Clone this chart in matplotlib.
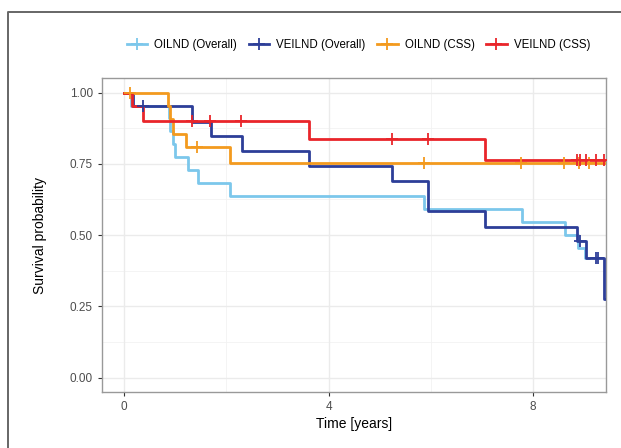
import matplotlib.pyplot as plt
from matplotlib.lines import Line2D

plt.rcParams['font.family'] = ['Liberation Sans', 'DejaVu Sans']

# Kaplan-Meier curves (step times and survival)
oilnd_os_t = [0, 0.13, 0.87, 0.90, 0.95, 1.00, 1.24, 1.45, 2.08, 5.86, 7.78, 8.63, 8.89, 9.02, 9.10]
oilnd_os_s = [1.0, 0.952, 0.909, 0.864, 0.818, 0.773, 0.727, 0.682, 0.636, 0.591, 0.545, 0.500, 0.455, 0.420, 0.420]
oilnd_os_cens_t = []
oilnd_os_cens_s = []

veilnd_os_t = [0, 0.17, 1.33, 1.69, 2.30, 3.61, 5.24, 5.94, 7.07, 8.87, 9.03, 9.39, 9.60]
veilnd_os_s = [1.0, 0.952, 0.897, 0.847, 0.795, 0.742, 0.690, 0.583, 0.529, 0.478, 0.420, 0.277, 0.277]
veilnd_os_cens_t = [0.37, 8.92, 9.23, 9.28]
veilnd_os_cens_s = [0.952, 0.478, 0.420, 0.420]

oilnd_css_t = [0, 0.86, 0.90, 0.96, 1.21, 2.08, 9.60]
oilnd_css_s = [1.0, 0.952, 0.906, 0.856, 0.808, 0.754, 0.754]
oilnd_css_cens_t = [0.12, 1.43, 5.86, 7.77, 8.61, 8.91, 9.09]
oilnd_css_cens_s = [1.0, 0.808, 0.754, 0.754, 0.754, 0.754, 0.754]

veilnd_css_t = [0, 0.15, 0.36, 3.61, 7.07, 9.60]
veilnd_css_s = [1.0, 0.952, 0.900, 0.837, 0.763, 0.763]
veilnd_css_cens_t = [1.32, 1.68, 2.28, 5.24, 5.94, 8.87, 8.92, 9.04, 9.24, 9.39]
veilnd_css_cens_s = [0.900, 0.900, 0.900, 0.837, 0.837, 0.763, 0.763, 0.763, 0.763, 0.763]

labels = ['OILND (Overall)', 'VEILND (Overall)', 'OILND (CSS)', 'VEILND (CSS)']
colors = ['#7cc7eb', '#2d3e98', '#f39a1e', '#e9252a']

curves = [
    (oilnd_os_t, oilnd_os_s, oilnd_os_cens_t, oilnd_os_cens_s),
    (veilnd_os_t, veilnd_os_s, veilnd_os_cens_t, veilnd_os_cens_s),
    (oilnd_css_t, oilnd_css_s, oilnd_css_cens_t, oilnd_css_cens_s),
    (veilnd_css_t, veilnd_css_s, veilnd_css_cens_t, veilnd_css_cens_s),
]

fig = plt.figure(figsize=(6.21, 4.48), dpi=100)
ax = fig.add_axes([0.1638, 0.1250, 0.8120, 0.7003])

# grid like theme_bw
for v in [0.125, 0.375, 0.625, 0.875]:
    ax.axhline(v, color='#f2f2f2', lw=0.6, zorder=0)
for v in [2, 6]:
    ax.axvline(v, color='#f2f2f2', lw=0.6, zorder=0)
for v in [0, 0.25, 0.5, 0.75, 1.0]:
    ax.axhline(v, color='#ebebeb', lw=1.0, zorder=0)
for v in [0, 4, 8]:
    ax.axvline(v, color='#ebebeb', lw=1.0, zorder=0)

handles = []
for (t, s, ct, cs), col, lab in zip(curves, colors, labels):
    ax.step(t, s, where='post', color=col, lw=2.0, zorder=3)
    if ct:
        ax.plot(ct, cs, ls='none', marker='+', ms=8, mew=1.3, color=col, zorder=4)
    handles.append(Line2D([0], [0], color=col, lw=2.0, marker='+', ms=8, mew=1.3, label=lab))

ax.set_xlim(-0.44, 9.43)
ax.set_ylim(-0.05, 1.05)
ax.set_xticks([0, 4, 8])
ax.set_yticks([0, 0.25, 0.5, 0.75, 1.0])
ax.set_yticklabels(['0.00', '0.25', '0.50', '0.75', '1.00'])
ax.tick_params(colors='#333333', labelcolor='#4d4d4d', labelsize=8.5, length=3, width=0.8)
for sp in ax.spines.values():
    sp.set_color('#999999')
    sp.set_linewidth(1.0)

ax.set_xlabel('Time [years]', fontsize=10, color='black', labelpad=3)
ax.set_ylabel('Survival probability', fontsize=10, color='black', labelpad=16)

fig.legend(handles=handles, loc='center', bbox_to_anchor=(0.577, 0.9), ncol=4,
           frameon=False, fontsize=8.3, handlelength=1.8, handletextpad=0.6,
           columnspacing=1.0)

# outer frame of the original image
fig.add_artist(Line2D([8 / 621, 8 / 621, 1], [0, 1 - 12 / 448, 1 - 12 / 448],
                      transform=fig.transFigure, color='#666666', lw=1.4))

fig.savefig('out.png', dpi=100)
